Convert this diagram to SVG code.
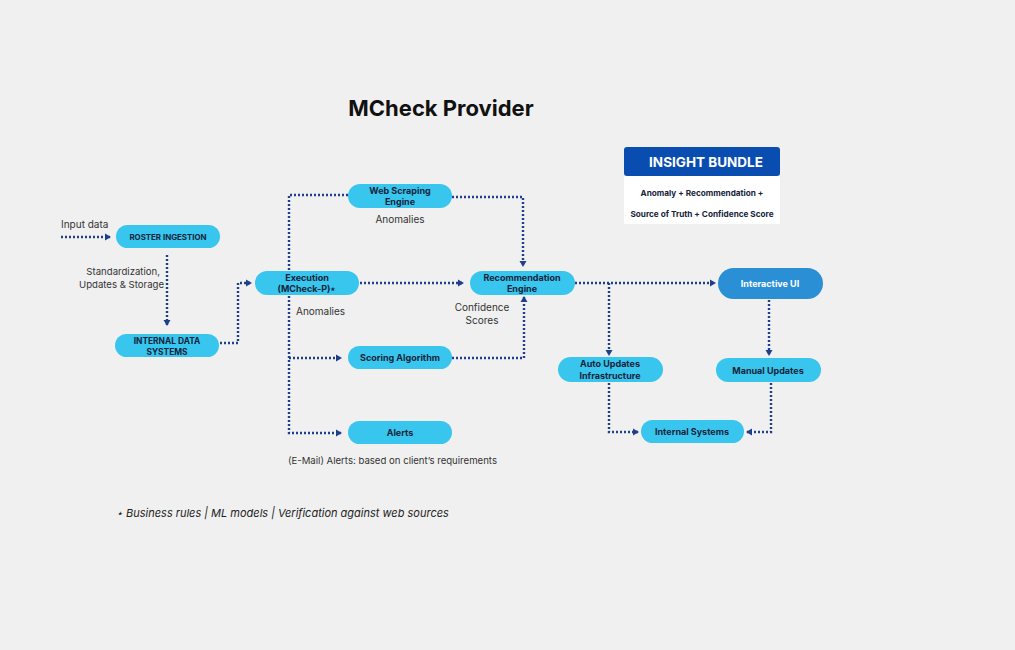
<svg xmlns="http://www.w3.org/2000/svg" width="1015" height="650" viewBox="0 0 1015 650">
<defs>
<style>
.n{fill:#38c6ee}
.t{font-family:Inter,"Liberation Sans",sans-serif;font-weight:700;font-size:9px;fill:#14233a;text-anchor:middle}
.lb{font-family:Inter,"Liberation Sans",sans-serif;font-size:10px;fill:#333}
.c{fill:none;stroke:#1f3f8a;stroke-width:2.4;stroke-dasharray:2 2}
</style>
<marker id="a" markerWidth="8" markerHeight="8" refX="5" refY="4" orient="auto" markerUnits="userSpaceOnUse"><path d="M0,0.5 L6,4 L0,7.5 Z" fill="#1f3f8a"/></marker>
</defs>
<rect width="1015" height="650" fill="#f0f0f0"/>
<text x="441" y="116" font-family="Inter,'Liberation Sans',sans-serif" font-weight="700" font-size="22" fill="#111" text-anchor="middle">MCheck Provider</text>
<g id="connectors">
<path class="c" d="M61,237 H110" marker-end="url(#a)"/>
<path class="c" d="M167,255 V325" marker-end="url(#a)"/>
<path class="c" d="M220,343 H238 V283 H251" marker-end="url(#a)"/>
<path class="c" d="M348,195 H289 V433 H341" marker-end="url(#a)"/>
<path class="c" d="M289,358 H341" marker-end="url(#a)"/>
<path class="c" d="M360,283 H463" marker-end="url(#a)"/>
<path class="c" d="M452,197 H523 V266" marker-end="url(#a)"/>
<path class="c" d="M452,358 H524 V297" marker-end="url(#a)"/>
<path class="c" d="M575,283 H715" marker-end="url(#a)"/>
<path class="c" d="M609,283 V355" marker-end="url(#a)"/>
<path class="c" d="M769,300 V355" marker-end="url(#a)"/>
<path class="c" d="M609,383 V432 H638" marker-end="url(#a)"/>
<path class="c" d="M771,383 V432 H747" marker-end="url(#a)"/>
</g>
<g id="roster"><rect class="n" x="116" y="225" width="104" height="23" rx="11.5"/><text class="t" x="168" y="239.5" style="font-size:7.9px">ROSTER INGESTION</text></g>
<g id="internal-data"><rect class="n" x="115" y="334" width="104" height="23" rx="11.5"/><text class="t" x="167" y="344" style="font-size:8.4px">INTERNAL DATA</text><text class="t" x="167" y="355" style="font-size:8.4px">SYSTEMS</text></g>
<g id="execution"><rect class="n" x="255" y="271" width="104" height="24" rx="12"/><text class="t" x="307" y="281">Execution</text><text class="t" x="307" y="292">(MCheck-P)⋆</text></g>
<g id="web-scraping"><rect class="n" x="348" y="184" width="104" height="24" rx="12"/><text class="t" x="400" y="194">Web Scraping</text><text class="t" x="400" y="205">Engine</text></g>
<g id="recommendation"><rect class="n" x="470" y="271" width="105" height="24" rx="12"/><text class="t" x="522" y="281">Recommendation</text><text class="t" x="522" y="292">Engine</text></g>
<g id="scoring"><rect class="n" x="348" y="346" width="104" height="23" rx="11.5"/><text class="t" x="400" y="361">Scoring Algorithm</text></g>
<g id="alerts"><rect class="n" x="348" y="421" width="104" height="23" rx="11.5"/><text class="t" x="400" y="436">Alerts</text></g>
<g id="interactive-ui"><rect x="718" y="268" width="105" height="31" rx="15.5" fill="#2b8fd6"/><text class="t" x="770" y="287" style="fill:#fff">Interactive UI</text></g>
<g id="auto-updates"><rect class="n" x="558" y="357" width="105" height="25" rx="12.5"/><text class="t" x="610" y="367">Auto Updates</text><text class="t" x="610" y="379">Infrastructure</text></g>
<g id="manual-updates"><rect class="n" x="716" y="358" width="105" height="24" rx="12"/><text class="t" x="768" y="374">Manual Updates</text></g>
<g id="internal-systems"><rect class="n" x="641" y="420" width="103" height="23" rx="11.5"/><text class="t" x="692" y="435">Internal Systems</text></g>
<g id="insight-bundle">
<rect x="624" y="176" width="156" height="48" fill="#fff"/>
<rect x="624" y="147" width="156" height="29" rx="3" fill="#0a4db0"/>
<text x="706" y="167" font-family="Inter,'Liberation Sans',sans-serif" font-weight="700" font-size="13.5" fill="#fff" text-anchor="middle">INSIGHT BUNDLE</text>
<text class="t" x="702" y="195.5" style="font-size:8.2px">Anomaly + Recommendation +</text>
<text class="t" x="702" y="216.5" style="font-size:8.2px">Source of Truth + Confidence Score</text>
</g>
<g id="labels">
<text class="lb" x="61" y="228">Input data</text>
<text class="lb" x="160" y="275" text-anchor="end" style="font-size:9.6px">Standardization,</text>
<text class="lb" x="164" y="288" text-anchor="end" style="font-size:9.6px">Updates &amp; Storage</text>
<text class="lb" x="400" y="223" text-anchor="middle">Anomalies</text>
<text class="lb" x="296" y="315">Anomalies</text>
<text class="lb" x="482" y="311" text-anchor="middle">Confidence</text>
<text class="lb" x="482" y="324" text-anchor="middle">Scores</text>
<text class="lb" x="288" y="464" style="font-size:9.6px">(E-Mail) Alerts: based on client’s requirements</text>
<text x="116" y="517" font-family="Inter,'Liberation Sans',sans-serif" font-style="italic" font-size="11" fill="#222">⋆ Business rules | ML models | Verification against web sources</text>
</g>
</svg>
